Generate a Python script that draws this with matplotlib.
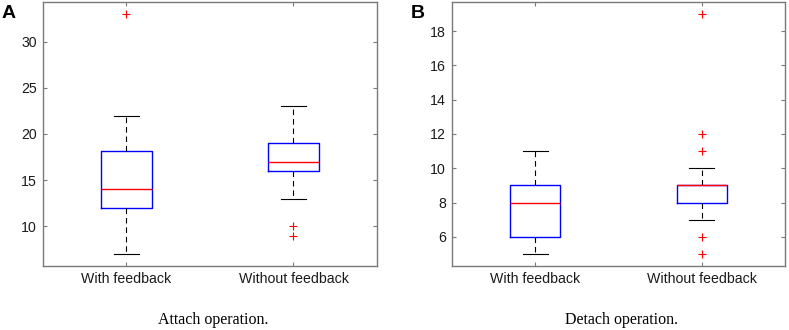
import matplotlib
matplotlib.use('Agg')
import matplotlib.pyplot as plt

# valores
grupos = ['With feedback', 'Without feedback']

attach_q1 = [12, 16]
attach_med = [14, 17]
attach_q3 = [18.2, 19]
attach_whislo = [7, 13]
attach_whishi = [22, 23]
attach_fliers = [[33], [10, 9]]

detach_q1 = [6, 8]
detach_med = [8, 9]
detach_q3 = [9, 9]
detach_whislo = [5, 7]
detach_whishi = [11, 10]
detach_fliers = [[], [19, 12, 11, 6, 5]]

plt.rcParams['font.family'] = ['Liberation Sans', 'DejaVu Sans']
COR_EIXO = '#7a7a7a'


def montar_stats(q1, med, q3, lo, hi, fliers):
    return [{'q1': a, 'med': b, 'q3': c, 'whislo': d, 'whishi': e, 'fliers': f, 'label': g}
            for a, b, c, d, e, f, g in zip(q1, med, q3, lo, hi, fliers, grupos)]


def desenhar(ax, stats, yticks, ylim, letra, legenda):
    ax.bxp(stats, positions=[1, 2], widths=0.3, showfliers=True,
           boxprops=dict(color='#0000ff', linewidth=1.0),
           medianprops=dict(color='#ff0000', linewidth=1.0, zorder=4),
           whiskerprops=dict(color='black', linewidth=0.8, linestyle=(0, (5, 3.5))),
           capprops=dict(color='black', linewidth=0.8),
           flierprops=dict(marker='+', markeredgecolor='#ff0000', markersize=6,
                           markeredgewidth=0.8, linestyle='none'))
    ax.set_xlim(0.5, 2.5)
    ax.set_ylim(*ylim)
    ax.set_yticks(yticks)
    ax.set_xticks([1, 2])
    ax.set_xticklabels(grupos, fontsize=10.2, color='#1a1a1a')
    ax.tick_params(axis='y', labelsize=10.2, labelcolor='#1a1a1a')
    ax.tick_params(direction='in', length=3, width=0.8, color=COR_EIXO,
                   top=True, right=True, pad=4.5)
    for spine in ax.spines.values():
        spine.set_edgecolor(COR_EIXO)
        spine.set_linewidth(1.0)
    bb = ax.get_position()
    fig.text(bb.x0 - 0.052, 0.945, letra, fontsize=14, fontweight='bold',
             ha='left', va='baseline')
    fig.text(bb.x0 + bb.width / 2 + 0.004, 0.018, legenda, fontsize=11.5,
             family=['Liberation Serif', 'DejaVu Serif'], ha='center', va='baseline')


fig = plt.figure(figsize=(7.89, 3.30), dpi=100)
ax1 = fig.add_axes([0.0545, 0.194, 0.4233, 0.8])
ax2 = fig.add_axes([0.5729, 0.194, 0.4220, 0.8])

desenhar(ax1, montar_stats(attach_q1, attach_med, attach_q3, attach_whislo, attach_whishi, attach_fliers),
         [10, 15, 20, 25, 30], (5.7, 34.3), 'A', 'Attach operation.')
desenhar(ax2, montar_stats(detach_q1, detach_med, detach_q3, detach_whislo, detach_whishi, detach_fliers),
         [6, 8, 10, 12, 14, 16, 18], (4.3, 19.7), 'B', 'Detach operation.')

fig.savefig('out.png', dpi=100, facecolor='white')
plt.close(fig)
